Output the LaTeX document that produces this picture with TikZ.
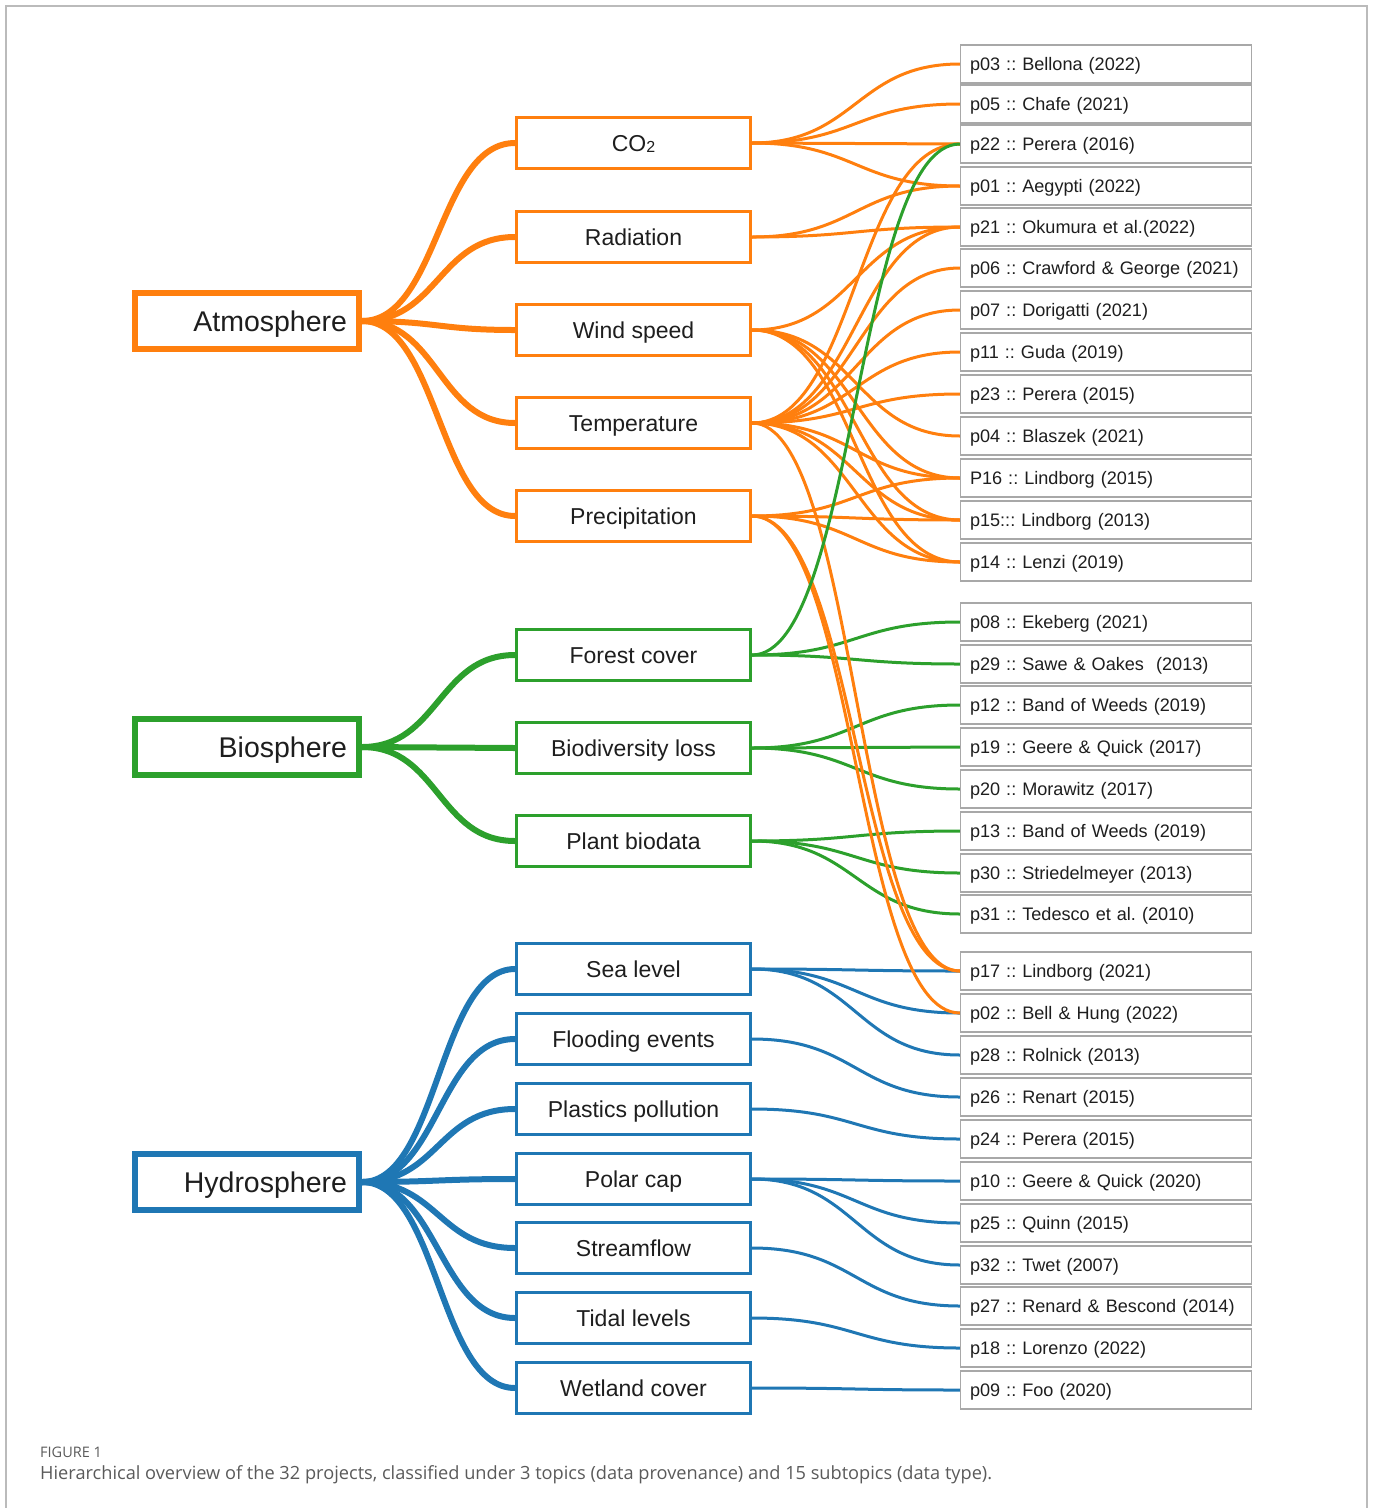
\documentclass[tikz,border=0pt]{standalone}
\usepackage{fontspec}
\setmainfont{Liberation Sans}
\newfontfamily\capfont{Open Sans}
\usetikzlibrary{backgrounds}
\frenchspacing
\definecolor{orng}{HTML}{FF7F0E}
\definecolor{grn}{HTML}{2CA02C}
\definecolor{blu}{HTML}{1F77B4}
\definecolor{frm}{HTML}{BBBBBB}
\definecolor{txt}{HTML}{1E1E1E}
\definecolor{captxt}{HTML}{5A5A5A}
\definecolor{pbord}{HTML}{A8A8A8}
\tikzset{
 topic/.style={draw=#1, line width=6pt, fill=white, minimum width=224pt, minimum height=56pt, inner sep=0pt, text width=200pt, align=right, font=\fontsize{28.5}{30}\selectfont, text=txt, text height=20.8pt, text depth=0pt},
 sub/.style={draw=#1, line width=3pt, fill=white, minimum width=234pt, minimum height=51pt, inner sep=0pt, align=center, font=\fontsize{23}{25}\selectfont, text=txt, text height=16.8pt, text depth=0pt},
 proj/.style={draw=pbord, line width=1.2pt, fill=white, minimum width=291pt, minimum height=38pt, inner sep=0pt, text width=272pt, align=left, font=\fontsize{18.1}{20}\selectfont, text=txt, text height=13.2pt, text depth=0pt},
 tlink/.style={draw=#1, line width=6pt},
 plink/.style={draw=#1, line width=3pt},
}
\newcommand\lnk[3]{\path (#2.east) -- (#3.west) coordinate[pos=0.5] (mid);
 \draw[#1] (#2.east) .. controls (mid |- #2.east) and (mid |- #3.west) .. (#3.west);}
\begin{document}
\begin{tikzpicture}[x=1pt,y=-1pt]
\useasboundingbox (0,0) rectangle (1375,1508);
\draw[frm, line width=1.2pt] (6,1510) -- (6,6) -- (1367,6) -- (1367,1510);
% topics
\node[topic=orng] (A) at (247,321) {Atmosphere};
\node[topic=grn] (B) at (247,747) {Biosphere};
\node[topic=blu] (H) at (247,1182) {Hydrosphere};
% subtopics
\node[sub=orng] (co2) at (633.5,143) {CO\raisebox{-1.5pt}{\fontsize{16}{16}\selectfont 2}};
\node[sub=orng] (rad) at (633.5,237) {Radiation};
\node[sub=orng] (wind) at (633.5,330) {Wind speed};
\node[sub=orng] (temp) at (633.5,423) {Temperature};
\node[sub=orng] (prec) at (633.5,516) {Precipitation};
\node[sub=grn] (forest) at (633.5,655) {Forest cover};
\node[sub=grn] (biod) at (633.5,748) {Biodiversity loss};
\node[sub=grn] (plant) at (633.5,841) {Plant biodata};
\node[sub=blu] (sea) at (633.5,969) {Sea level};
\node[sub=blu] (flood) at (633.5,1039) {Flooding events};
\node[sub=blu] (plast) at (633.5,1109) {Plastics pollution};
\node[sub=blu] (polar) at (633.5,1179) {Polar cap};
\node[sub=blu] (stream) at (633.5,1248) {Streamflow};
\node[sub=blu] (tidal) at (633.5,1318) {Tidal levels};
\node[sub=blu] (wet) at (633.5,1388) {Wetland cover};
% projects
\node[proj] (p03) at (1106,64) {p03 :: Bellona (2022)};
\node[proj] (p05) at (1106,104) {p05 :: Chafe (2021)};
\node[proj] (p22) at (1106,144) {p22 :: Perera (2016)};
\node[proj] (p01) at (1106,186) {p01 :: Aegypti (2022)};
\node[proj] (p21) at (1106,227) {p21 :: Okumura et al.(2022)};
\node[proj] (p06) at (1106,268) {p06 :: Crawford \& George (2021)};
\node[proj] (p07) at (1106,310) {p07 :: Dorigatti (2021)};
\node[proj] (p11) at (1106,352) {p11 :: Guda (2019)};
\node[proj] (p23) at (1106,394) {p23 :: Perera (2015)};
\node[proj] (p04) at (1106,436) {p04 :: Blaszek (2021)};
\node[proj] (p16) at (1106,478) {P16 :: Lindborg (2015)};
\node[proj] (p15) at (1106,520) {p15::: Lindborg (2013)};
\node[proj] (p14) at (1106,562) {p14 :: Lenzi (2019)};
\node[proj] (p08) at (1106,622) {p08 :: Ekeberg (2021)};
\node[proj] (p29) at (1106,664) {p29 :: Sawe \& Oakes\ \ (2013)};
\node[proj] (p12) at (1106,705) {p12 :: Band of Weeds (2019)};
\node[proj] (p19) at (1106,747) {p19 :: Geere \& Quick (2017)};
\node[proj] (p20) at (1106,789) {p20 :: Morawitz (2017)};
\node[proj] (p13) at (1106,831) {p13 :: Band of Weeds (2019)};
\node[proj] (p30) at (1106,873) {p30 :: Striedelmeyer (2013)};
\node[proj] (p31) at (1106,914) {p31 :: Tedesco et al. (2010)};
\node[proj] (p17) at (1106,971) {p17 :: Lindborg (2021)};
\node[proj] (p02) at (1106,1013) {p02 :: Bell \& Hung (2022)};
\node[proj] (p28) at (1106,1055) {p28 :: Rolnick (2013)};
\node[proj] (p26) at (1106,1097) {p26 :: Renart (2015)};
\node[proj] (p24) at (1106,1139) {p24 :: Perera (2015)};
\node[proj] (p10) at (1106,1181) {p10 :: Geere \& Quick (2020)};
\node[proj] (p25) at (1106,1223) {p25 :: Quinn (2015)};
\node[proj] (p32) at (1106,1265) {p32 :: Twet (2007)};
\node[proj] (p27) at (1106,1306) {p27 :: Renard \& Bescond (2014)};
\node[proj] (p18) at (1106,1348) {p18 :: Lorenzo (2022)};
\node[proj] (p09) at (1106,1390) {p09 :: Foo (2020)};
% caption
\node[anchor=west, inner sep=0pt, font=\capfont\fontsize{14.5}{15}\selectfont, text=captxt] (figlbl) at (40,1452) {FIGURE 1};
\node[anchor=west, inner sep=0pt, font=\capfont\fontsize{18.2}{20}\selectfont, text=captxt] (cap) at (40,1475) {Hierarchical overview of the 32 projects, classified under 3 topics (data provenance) and 15 subtopics (data type).};
\begin{scope}[on background layer]
\foreach \s in {sea,flood,plast,polar,stream,tidal,wet} {\lnk{tlink=blu}{H}{\s}}
\foreach \s/\p in {sea/p17,sea/p02,sea/p28,flood/p26,plast/p24,polar/p10,polar/p25,polar/p32,stream/p27,tidal/p18,wet/p09} {\lnk{plink=blu}{\s}{\p}}
\foreach \s in {forest,biod,plant} {\lnk{tlink=grn}{B}{\s}}
\foreach \s/\p in {forest/p08,forest/p29,biod/p12,biod/p19,biod/p20,plant/p13,plant/p30,plant/p31} {\lnk{plink=grn}{\s}{\p}}
\foreach \s in {co2,rad,wind,temp,prec} {\lnk{tlink=orng}{A}{\s}}
\foreach \s/\p in {co2/p03,co2/p05,co2/p22,co2/p01,rad/p01,rad/p21,wind/p21,wind/p04,wind/p16,wind/p15,wind/p14,temp/p22,temp/p21,temp/p06,temp/p07,temp/p11,temp/p23,temp/p16,temp/p15,temp/p14,temp/p17,prec/p16,prec/p15,prec/p14,prec/p17,prec/p02} {\lnk{plink=orng}{\s}{\p}}
\lnk{plink=grn}{forest}{p22}
\end{scope}
\end{tikzpicture}
\end{document}
